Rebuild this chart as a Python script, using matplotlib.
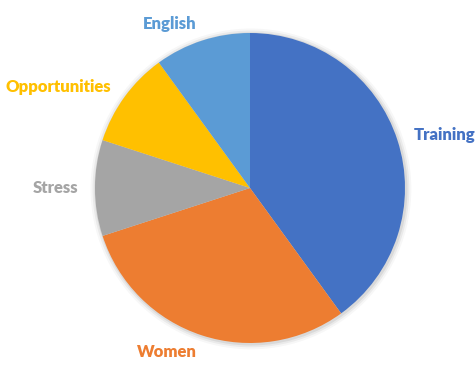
import matplotlib.pyplot as plt
from matplotlib.patches import Circle

# Share of mentions per topic
topics = ["Training", "Women", "Stress", "Opportunities", "English"]
shares = [40, 30, 10, 10, 10]
colors = ["#4472C4", "#ED7D31", "#A5A5A5", "#FFC000", "#5B9BD5"]

plt.rcParams['font.family'] = ['Lato', 'DejaVu Sans']

fig = plt.figure(figsize=(4.77, 3.65), dpi=100)
ax = fig.add_axes([0, 0, 1, 1])

# soft drop shadow under the pie
for r, a in [(1.035, 0.03), (1.022, 0.05), (1.01, 0.07)]:
    ax.add_patch(Circle((0.006, -0.006), r, color="black", alpha=a, lw=0, zorder=0))

wedges, texts = ax.pie(shares, labels=topics, colors=colors, startangle=90,
                       counterclock=False, labeldistance=1.11,
                       wedgeprops=dict(linewidth=0, zorder=1),
                       textprops=dict(fontsize=12, fontweight="heavy"))
for t, c in zip(texts, colors):
    t.set_color(c)

ax.set_xlim(-250 / 155, 227 / 155)
ax.set_ylim(-177 / 155, 188 / 155)
ax.set_aspect("auto")
ax.axis("off")

fig.savefig("out.png", dpi=100, facecolor="white")
